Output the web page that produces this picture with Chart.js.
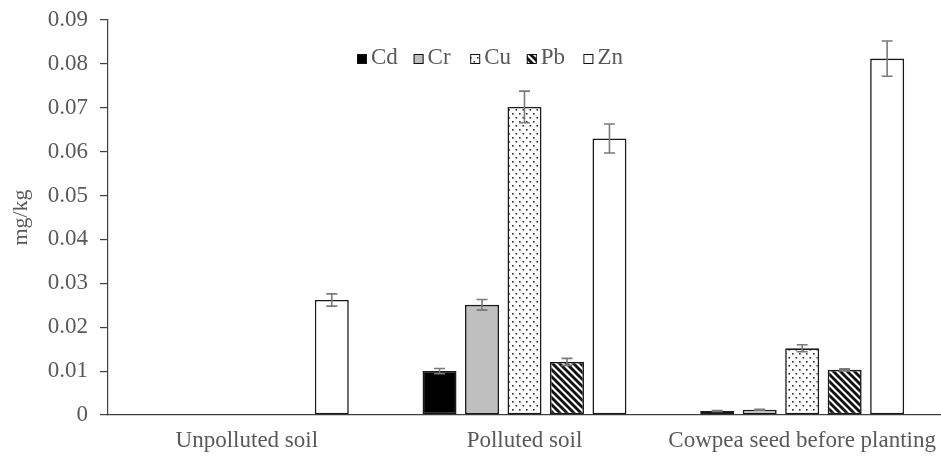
<!DOCTYPE html>
<html>
<head>
<meta charset="utf-8">
<script src="https://cdn.jsdelivr.net/npm/chart.js@4.4.1/dist/chart.umd.min.js"></script>
<style>
  html, body { margin: 0; padding: 0; background: #ffffff; }
  #wrap { width: 941px; height: 457px; }
</style>
</head>
<body>
<div id="wrap"><canvas id="chart" width="941" height="457"></canvas></div>
<script>
// Heavy metal concentrations (mg/kg) by sample type
const categories = ['Unpolluted soil', 'Polluted soil', 'Cowpea seed before planting'];
const metals = ['Cd', 'Cr', 'Cu', 'Pb', 'Zn'];

const cdValues = [null, 0.0100, 0.0009];
const crValues = [null, 0.0251, 0.0012];
const cuValues = [null, 0.0702, 0.0152];
const pbValues = [null, 0.0121, 0.0103];
const znValues = [0.0262, 0.0630, 0.0812];

// standard errors
const cdErrors = [null, 0.0006, 0.0001];
const crErrors = [null, 0.0012, 0.0001];
const cuErrors = [null, 0.0036, 0.0008];
const pbErrors = [null, 0.0008, 0.0002];
const znErrors = [0.0014, 0.0033, 0.0040];

const yTickLabels = ['0', '0.01', '0.02', '0.03', '0.04', '0.05', '0.06', '0.07', '0.08', '0.09'];

const FONT = "'Liberation Serif', 'Times New Roman', serif";
const TEXT = '#595959';
const AXIS = '#404040';

// fill patterns
function makePattern(w, h, paint) {
  const tile = document.createElement('canvas');
  tile.width = w; tile.height = h;
  const t = tile.getContext('2d');
  paint(t, w, h);
  return document.createElement('canvas').getContext('2d').createPattern(tile, 'repeat');
}
const dotPattern = makePattern(7, 8, (t, w, h) => {
  t.fillStyle = '#ffffff'; t.fillRect(0, 0, w, h);
  t.fillStyle = '#2b2b2b';
  t.fillRect(1, 1, 1.6, 1.6);
  t.fillRect(4.5, 5, 1.6, 1.6);
});
const hatchPattern = makePattern(7, 7, (t, w, h) => {
  t.fillStyle = '#ffffff'; t.fillRect(0, 0, w, h);
  t.strokeStyle = '#111111'; t.lineWidth = 2.9;
  for (const off of [-7, 0, 7]) {
    t.beginPath(); t.moveTo(off - 1, -1); t.lineTo(off + 8, 8); t.stroke();
  }
});

const fills = ['#000000', '#bfbfbf', dotPattern, hatchPattern, '#ffffff'];
const seriesValues = [cdValues, crValues, cuValues, pbValues, znValues];
const seriesErrors = [cdErrors, crErrors, cuErrors, pbErrors, znErrors];

const datasets = metals.map((m, i) => ({
  label: m,
  data: seriesValues[i],
  errors: seriesErrors[i],
  backgroundColor: fills[i],
  borderColor: '#1a1a1a',
  borderWidth: 1.6,
  borderSkipped: false,
  categoryPercentage: 0.765,
  barPercentage: 0.8
}));

// error bars drawn from each bar's value through the y scale
const errorBars = {
  id: 'errorBars',
  afterDatasetsDraw(chart) {
    const ctx = chart.ctx;
    const y = chart.scales.y;
    ctx.save();
    ctx.strokeStyle = '#7a7a7a';
    ctx.lineWidth = 1.6;
    chart.data.datasets.forEach((ds, di) => {
      const meta = chart.getDatasetMeta(di);
      meta.data.forEach((bar, j) => {
        const v = ds.data[j], e = ds.errors[j];
        if (v == null || e == null) return;
        const top = y.getPixelForValue(v + e);
        const bot = y.getPixelForValue(v - e);
        const half = 5.5;
        ctx.beginPath();
        ctx.moveTo(bar.x, top); ctx.lineTo(bar.x, bot);
        ctx.moveTo(bar.x - half, top); ctx.lineTo(bar.x + half, top);
        ctx.moveTo(bar.x - half, bot); ctx.lineTo(bar.x + half, bot);
        ctx.stroke();
      });
    });
    ctx.restore();
  }
};

// single-row legend placed inside the plot area
const insideLegend = {
  id: 'insideLegend',
  afterDraw(chart) {
    const ctx = chart.ctx;
    const startX = 357, pitch = 56.6, boxTop = 54, box = 10;
    ctx.save();
    ctx.font = '23px ' + FONT;
    ctx.textBaseline = 'alphabetic';
    ctx.textAlign = 'left';
    chart.data.datasets.forEach((ds, i) => {
      const x = startX + i * pitch;
      ctx.fillStyle = ds.backgroundColor;
      ctx.fillRect(x, boxTop, box, box);
      ctx.strokeStyle = '#111111';
      ctx.lineWidth = 1;
      ctx.strokeRect(x + 0.5, boxTop + 0.5, box - 1, box - 1);
      ctx.fillStyle = TEXT;
      ctx.fillText(ds.label, x + 14, boxTop + 10);
    });
    ctx.restore();
  }
};

new Chart(document.getElementById('chart'), {
  type: 'bar',
  data: { labels: categories, datasets },
  plugins: [errorBars, insideLegend],
  options: {
    responsive: false,
    animation: false,
    devicePixelRatio: 1,
    layout: { padding: { top: 20, right: 0, bottom: 0, left: 0 } },
    plugins: { legend: { display: false }, tooltip: { enabled: false } },
    scales: {
      x: {
        grid: { display: false, drawTicks: false },
        border: { display: true, color: AXIS, width: 1.2 },
        ticks: { color: TEXT, font: { family: FONT, size: 23 }, padding: 12, maxRotation: 0, autoSkip: false },
        afterFit(s) { s.height = 42; s.paddingLeft = 0; s.paddingRight = 0; }
      },
      y: {
        min: 0,
        max: 0.09,
        grid: { drawOnChartArea: false, drawTicks: true, tickLength: 8, color: AXIS, lineWidth: 1.2 },
        border: { display: true, color: AXIS, width: 1.2 },
        ticks: {
          stepSize: 0.01,
          color: TEXT,
          padding: 12,
          font: { family: FONT, size: 23 },
          callback: (v, i) => yTickLabels[i]
        },
        title: {
          display: true,
          text: 'mg/kg',
          color: TEXT,
          font: { family: FONT, size: 22 },
          padding: { top: 8, bottom: 0 }
        },
        afterFit(s) { s.width = 108; s.paddingTop = 0; s.paddingBottom = 0; }
      }
    }
  }
});
</script>
</body>
</html>
